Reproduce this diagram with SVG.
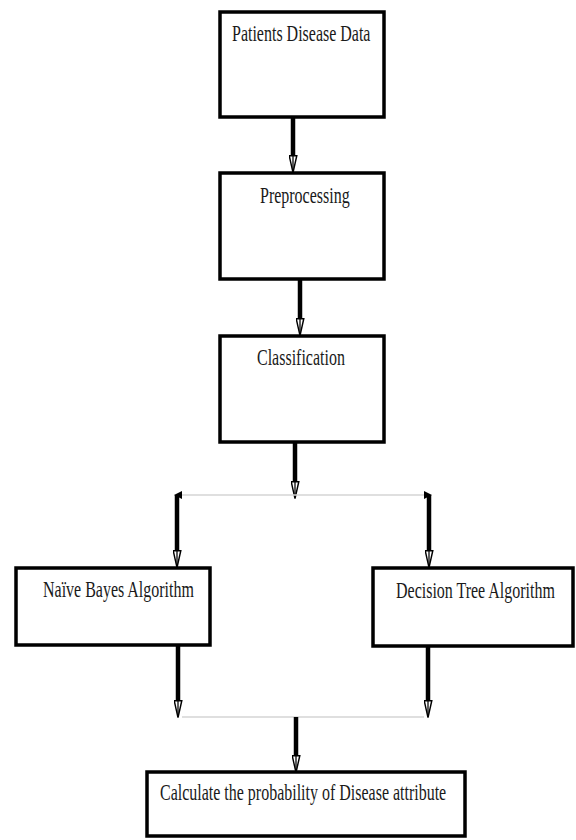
<svg xmlns="http://www.w3.org/2000/svg" width="576" height="840" viewBox="0 0 576 840">
<style>
.box{fill:#fff;stroke:#000;stroke-width:3.5}
.lbl{font-family:"Liberation Serif","Times New Roman",serif;font-size:16px;fill:#1a1a1a}
.shaft{fill:none;stroke:#000;stroke-width:4.5}
.thin{fill:none;stroke:#d4d4d4;stroke-width:1.5}
</style>
<defs>
<marker id="ah" markerUnits="userSpaceOnUse" viewBox="0 0 20 10" refX="0" refY="5" markerWidth="20" markerHeight="9" orient="auto">
<path d="M0.8,0.8 L19.5,5 L0.8,9.2 Z" fill="#fff" stroke="#000" stroke-width="1.6"/>
<path d="M0,5 L19,5" stroke="#000" stroke-width="1.4"/>
</marker>
<marker id="flag" markerUnits="userSpaceOnUse" viewBox="0 0 8 8" refX="4" refY="4" markerWidth="8" markerHeight="8" orient="auto-start-reverse">
<path d="M0,0 L8,4 L0,8 Z" fill="#000"/>
</marker>
</defs>
<g id="connectors">
<path class="shaft" d="M293,118 L293,155" marker-end="url(#ah)"/>
<path class="shaft" d="M300,280 L300,318" marker-end="url(#ah)"/>
<path class="shaft" d="M295,443 L295,481" marker-end="url(#ah)"/>
<path class="thin" d="M178,495 L428,495" marker-start="url(#flag)" marker-end="url(#flag)"/>
<path class="shaft" d="M177,495 L177,550" marker-end="url(#ah)"/>
<path class="shaft" d="M429,495 L429,550" marker-end="url(#ah)"/>
<path class="shaft" d="M178,646 L178,700" marker-end="url(#ah)"/>
<path class="shaft" d="M428,646 L428,700" marker-end="url(#ah)"/>
<path class="thin" d="M182,717 L424,717"/>
<path class="shaft" d="M296,717 L296,755" marker-end="url(#ah)"/>
</g>
<g id="node-patients">
<rect class="box" x="220" y="12" width="164" height="105"/>
<text class="lbl" transform="translate(232,41) scale(1,1.42)">Patients Disease Data</text>
</g>
<g id="node-preprocessing">
<rect class="box" x="220" y="173" width="164" height="106"/>
<text class="lbl" transform="translate(260,203) scale(1,1.42)">Preprocessing</text>
</g>
<g id="node-classification">
<rect class="box" x="220" y="336" width="164" height="106"/>
<text class="lbl" transform="translate(257,365) scale(1,1.42)">Classification</text>
</g>
<g id="node-naive">
<rect class="box" x="16" y="568" width="194" height="77"/>
<text class="lbl" transform="translate(43,597) scale(1,1.42)">Naïve Bayes Algorithm</text>
</g>
<g id="node-decision">
<rect class="box" x="373" y="568" width="200" height="78"/>
<text class="lbl" transform="translate(396,598) scale(1,1.42)">Decision Tree Algorithm</text>
</g>
<g id="node-calculate">
<rect class="box" x="147" y="772" width="318" height="64"/>
<text class="lbl" transform="translate(160,800) scale(1,1.42)">Calculate the probability of Disease attribute</text>
</g>
</svg>
